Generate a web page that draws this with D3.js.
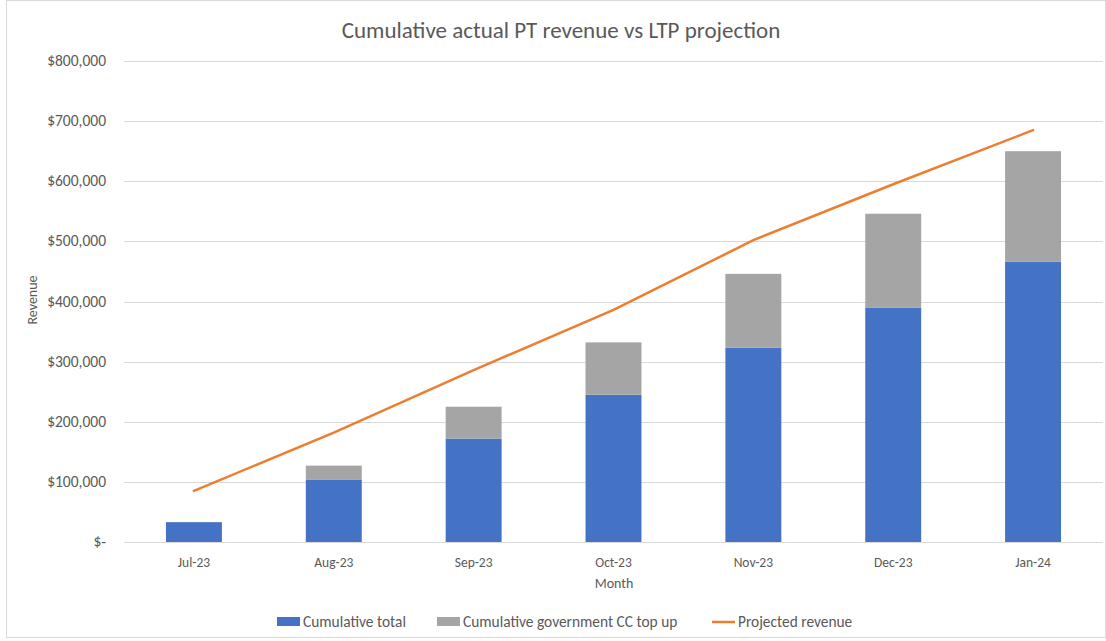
<!DOCTYPE html>
<html>
<head>
<meta charset="utf-8">
<script src="https://cdn.jsdelivr.net/npm/d3@7"></script>
<style>
  body { margin: 0; background: #fff; }
  text { font-family: Carlito, Calibri, "Liberation Sans", Arial, sans-serif; }
</style>
</head>
<body>
<div id="chart"></div>
<script>
// data
var months = ["Jul-23", "Aug-23", "Sep-23", "Oct-23", "Nov-23", "Dec-23", "Jan-24"];
var cumulativeTotal = [33000, 104000, 172000, 245000, 323000, 390000, 466000];
var govTopUp = [0, 23000, 53000, 87000, 123000, 156000, 184000];
var projected = [85000, 182000, 286000, 386000, 502000, 595000, 685000];
var yTicks = [0, 100000, 200000, 300000, 400000, 500000, 600000, 700000, 800000];

var w = 1106, h = 641;
var plotLeft = 124, plotRight = 1103, plotTop = 61, plotBottom = 542;

var svg = d3.select("#chart").append("svg")
    .attr("width", w)
    .attr("height", h);

// chart border
svg.append("rect")
    .attr("x", 6.5).attr("y", 0.5)
    .attr("width", w - 7).attr("height", 637)
    .attr("fill", "none")
    .attr("stroke", "#d9d9d9");

var xScale = d3.scaleBand()
    .domain(months)
    .range([plotLeft, plotRight])
    .paddingInner(0.6)
    .paddingOuter(0.3);

var yScale = d3.scaleLinear()
    .domain([0, 800000])
    .range([plotBottom, plotTop]);

// gridlines
svg.append("g")
    .selectAll("line")
    .data(yTicks)
    .enter()
    .append("line")
    .attr("x1", plotLeft)
    .attr("x2", plotRight)
    .attr("y1", function(d) { return Math.round(yScale(d)) + 0.5; })
    .attr("y2", function(d) { return Math.round(yScale(d)) + 0.5; })
    .attr("stroke", "#d9d9d9")
    .attr("stroke-width", 1);

// y tick labels (accounting format)
var fmt = d3.format(",");
svg.append("g")
    .selectAll("text")
    .data(yTicks)
    .enter()
    .append("text")
    .attr("x", 106)
    .attr("y", function(d) { return yScale(d) + 5; })
    .attr("text-anchor", "end")
    .attr("font-size", 15.5)
    .attr("fill", "#595959")
    .text(function(d) { return d === 0 ? "$-" : "$" + fmt(d); });

// stacked bars
var stack = months.map(function(m, i) {
    return { month: m, total: cumulativeTotal[i], topup: govTopUp[i] };
});

svg.append("g")
    .selectAll("rect")
    .data(stack)
    .enter()
    .append("rect")
    .attr("x", function(d) { return xScale(d.month); })
    .attr("y", function(d) { return yScale(d.total); })
    .attr("width", xScale.bandwidth())
    .attr("height", function(d) { return yScale(0) - yScale(d.total); })
    .attr("fill", "#4472c4");

svg.append("g")
    .selectAll("rect")
    .data(stack)
    .enter()
    .append("rect")
    .attr("x", function(d) { return xScale(d.month); })
    .attr("y", function(d) { return yScale(d.total + d.topup); })
    .attr("width", xScale.bandwidth())
    .attr("height", function(d) { return yScale(d.total) - yScale(d.total + d.topup); })
    .attr("fill", "#a5a5a5");

// projected line
var line = d3.line()
    .x(function(d, i) { return xScale(months[i]) + xScale.bandwidth() / 2; })
    .y(function(d) { return yScale(d); });

svg.append("path")
    .datum(projected)
    .attr("d", line)
    .attr("fill", "none")
    .attr("stroke", "#ed7d31")
    .attr("stroke-width", 2.5)
    .attr("stroke-linecap", "round");

// x labels
svg.append("g")
    .selectAll("text")
    .data(months)
    .enter()
    .append("text")
    .attr("x", function(d) { return xScale(d) + xScale.bandwidth() / 2; })
    .attr("y", 567)
    .attr("text-anchor", "middle")
    .attr("font-size", 13.5)
    .attr("fill", "#595959")
    .text(function(d) { return d; });

// axis titles
svg.append("text")
    .attr("x", 614).attr("y", 588)
    .attr("text-anchor", "middle")
    .attr("font-size", 14)
    .attr("fill", "#595959")
    .text("Month");

svg.append("text")
    .attr("transform", "translate(37,300) rotate(-90)")
    .attr("text-anchor", "middle")
    .attr("font-size", 14)
    .attr("fill", "#595959")
    .text("Revenue");

// title
svg.append("text")
    .attr("x", 561).attr("y", 38)
    .attr("text-anchor", "middle")
    .attr("font-size", 23)
    .attr("fill", "#595959")
    .text("Cumulative actual PT revenue vs LTP projection");

// legend
var legend = [
    { name: "Cumulative total", color: "#4472c4", type: "rect", x: 277 },
    { name: "Cumulative government CC top up", color: "#a5a5a5", type: "rect", x: 437 },
    { name: "Projected revenue", color: "#ed7d31", type: "line", x: 712 }
];

var lg = svg.append("g")
    .selectAll("g")
    .data(legend)
    .enter()
    .append("g")
    .attr("transform", function(d) { return "translate(" + d.x + ",622)"; });

lg.filter(function(d) { return d.type === "rect"; })
    .append("rect")
    .attr("x", 0).attr("y", -5)
    .attr("width", 23).attr("height", 9)
    .attr("fill", function(d) { return d.color; });

lg.filter(function(d) { return d.type === "line"; })
    .append("line")
    .attr("x1", 0).attr("x2", 23)
    .attr("y1", 0).attr("y2", 0)
    .attr("stroke", function(d) { return d.color; })
    .attr("stroke-width", 2.5);

lg.append("text")
    .attr("x", 26).attr("y", 5)
    .attr("font-size", 15.4)
    .attr("fill", "#595959")
    .text(function(d) { return d.name; });
</script>
</body>
</html>
